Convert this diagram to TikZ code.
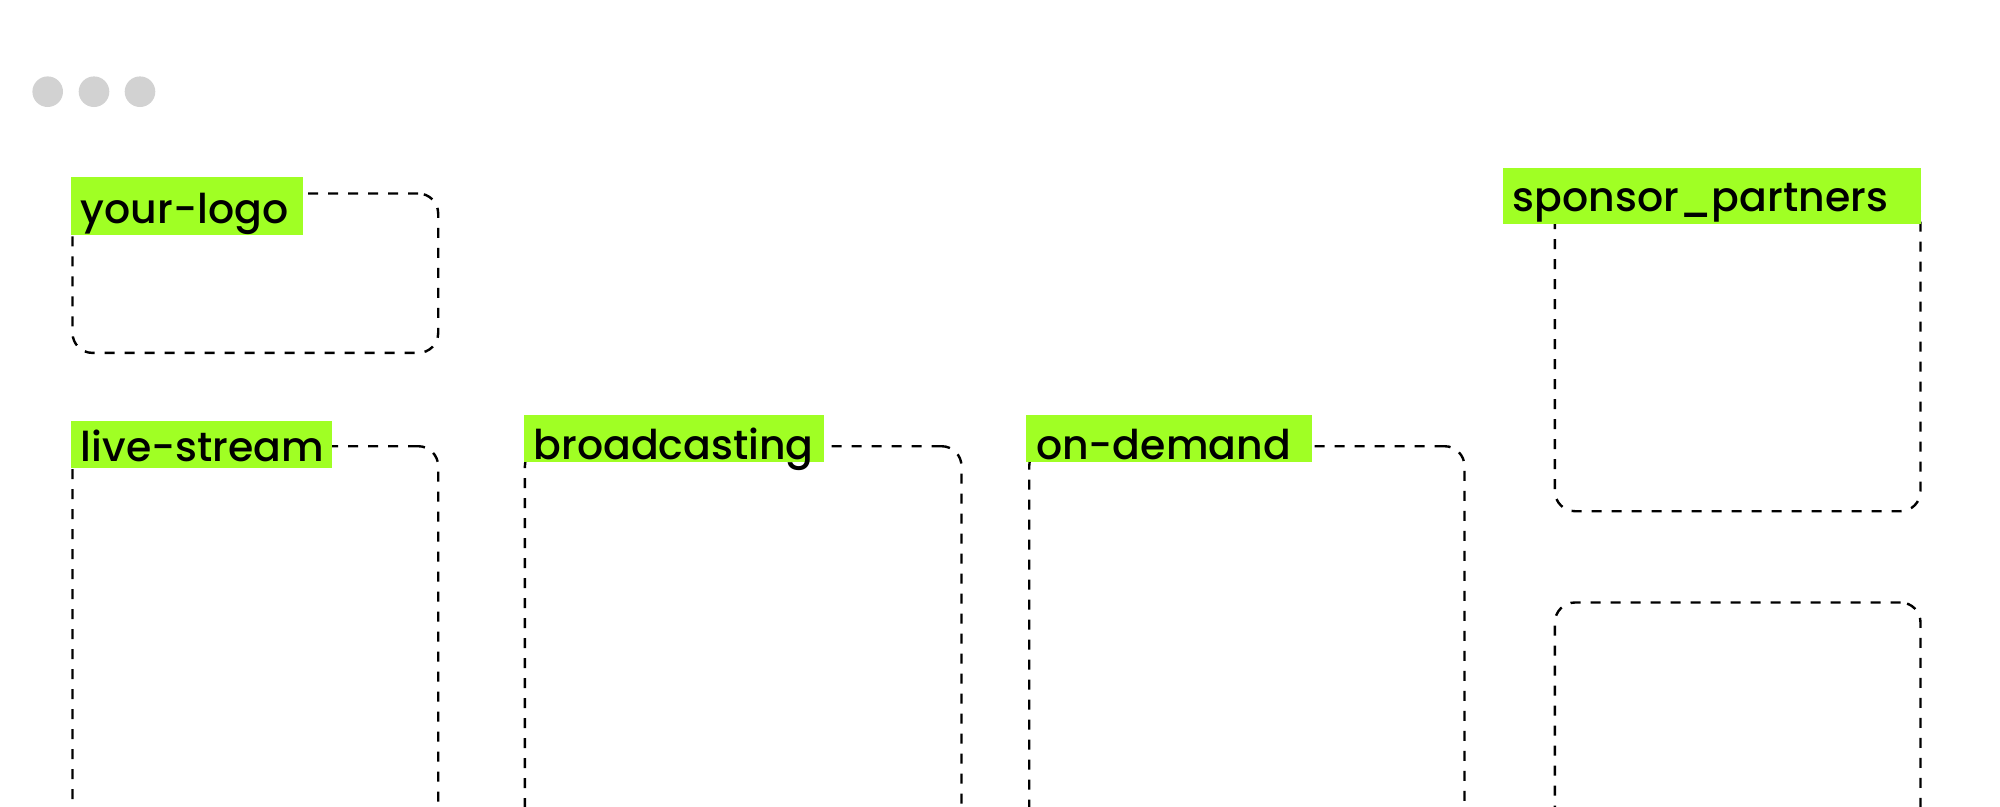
\documentclass[tikz,border=0pt]{standalone}
\usepackage{fontspec}
\setmainfont{Poppins}[UprightFont=* Medium]
\definecolor{lime}{RGB}{160,255,36}
\definecolor{dotgray}{RGB}{210,210,210}
\begin{document}
\begin{tikzpicture}[x=1pt,y=-1pt,
  dashbox/.style={draw=black, line width=2.4pt, dash pattern=on 10pt off 10pt, rounded corners=20pt, anchor=north west, inner sep=0pt},
  tag/.style={fill=lime, inner xsep=10pt, inner ysep=0pt, anchor=north west, align=left, text depth=0pt, font=\fontsize{41}{41}\selectfont},
  wdot/.style={circle, fill=dotgray, minimum size=30.6pt, inner sep=0pt}]
\useasboundingbox (0,0) rectangle (2000,806);
\clip (0,0) rectangle (2000,806);
% window dots
\node[wdot] (dot1) at (47.7,91.7) {};
\node[wdot] (dot2) at (94,91.7) {};
\node[wdot] (dot3) at (140,91.7) {};
% dashed boxes
\node[dashbox, minimum width=365.7pt, minimum height=159.4pt] (logobox) at (71.3,192.3) {};
\node[dashbox, minimum width=365.7pt, minimum height=455pt] (livebox) at (71.3,445) {};
\node[dashbox, minimum width=436.6pt, minimum height=455pt] (broadbox) at (523.7,445) {};
\node[dashbox, minimum width=435.3pt, minimum height=455pt] (demandbox) at (1028,445) {};
\node[dashbox, minimum width=365.6pt, minimum height=315pt] (sponsorbox) at (1553.7,195) {};
\node[dashbox, minimum width=365.6pt, minimum height=300pt] (extrabox) at (1553.7,601.3) {};
% labels
\node[tag, text width=212pt, text height=34.3pt, minimum height=58.3pt] (logotag) at (70.7,176.7) {\mbox{your-logo}};
\node[tag, text width=241.3pt, text height=35pt, minimum height=47pt] (livetag) at (70.7,420.7) {\mbox{live-stream}};
\node[tag, text width=280pt, text height=42pt, minimum height=46.7pt] (broadtag) at (523.3,415) {\mbox{broadcasting}};
\node[tag, text width=265.7pt, text height=42pt, minimum height=46.7pt] (demandtag) at (1026,415) {\mbox{on-demand}};
\node[tag, text width=397.6pt, text height=32.4pt, minimum height=55.6pt] (sponsortag) at (1502.7,167.7) {\mbox{sponsor\_partners}};
\end{tikzpicture}
\end{document}
